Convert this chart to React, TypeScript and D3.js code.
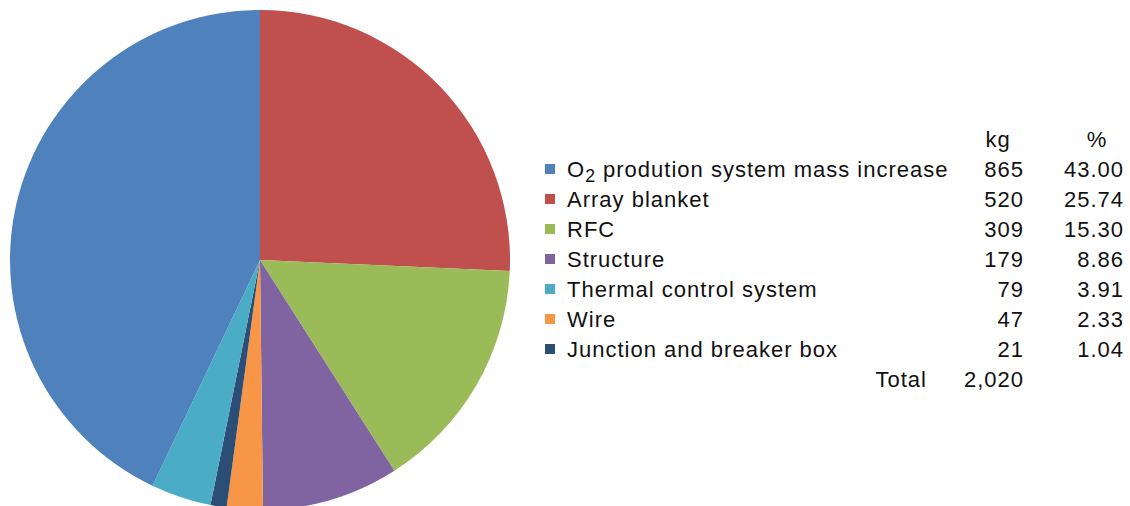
import React from "react";
import * as d3 from "d3";

const categories = [
  "O2 prodution system mass increase",
  "Array blanket",
  "RFC",
  "Structure",
  "Thermal control system",
  "Wire",
  "Junction and breaker box",
];
const massKg = [865, 520, 309, 179, 79, 47, 21];
const percents = [43.0, 25.74, 15.3, 8.86, 3.91, 2.33, 1.04];
const colors = ["#4F81BD", "#C0504D", "#9BBB59", "#8064A2", "#4BACC6", "#F79646", "#2C4D75"];
const pieOrder = [1, 2, 3, 5, 6, 4, 0];
const totalLabel = "2,020";

export default function App() {
  const W = 1130, H = 506;
  const cx = 260, cy = 260, r = 250;
  const ordered = pieOrder.map((i) => ({ i, v: percents[i] }));
  const pie = d3.pie<{ i: number; v: number }>().value((d) => d.v).sort(null).startAngle(0).endAngle(2 * Math.PI);
  const arc = d3.arc<d3.PieArcDatum<{ i: number; v: number }>>().innerRadius(0).outerRadius(r);
  const arcs = pie(ordered);

  const rowY = d3.scaleLinear().domain([0, 1]).range([177, 207]);
  const font = "'Liberation Sans', Arial, sans-serif";
  const fs = 22;
  const ls = 1;
  const kgX = 1024, pctX = 1124;

  return (
    <svg width={W} height={H} style={{ position: "absolute", left: 0, top: 0, background: "#fff" }}>
      <g transform={`translate(${cx},${cy})`}>
        {arcs.map((a) => (
          <path key={a.data.i} d={arc(a) || ""} fill={colors[a.data.i]} />
        ))}
      </g>
      <g fontFamily={font} fontSize={fs} fill="#111" letterSpacing={ls}>
        <text x={998} y={147} textAnchor="middle">kg</text>
        <text x={1097} y={147} textAnchor="middle">%</text>
        {categories.map((c, i) => {
          const y = rowY(i);
          return (
            <g key={c}>
              <rect x={545} y={y - 13} width={10} height={10} fill={colors[i]} />
              <text x={567} y={y}>
                {i === 0 ? (
                  <>
                    O<tspan fontSize={fs * 0.8} dy={5}>2</tspan>
                    <tspan dy={-5}> prodution system mass increase</tspan>
                  </>
                ) : (
                  c
                )}
              </text>
              <text x={kgX} y={y} textAnchor="end">{massKg[i]}</text>
              <text x={pctX} y={y} textAnchor="end">{percents[i].toFixed(2)}</text>
            </g>
          );
        })}
        <text x={927} y={rowY(7)} textAnchor="end">Total</text>
        <text x={kgX} y={rowY(7)} textAnchor="end">{totalLabel}</text>
      </g>
    </svg>
  );
}
